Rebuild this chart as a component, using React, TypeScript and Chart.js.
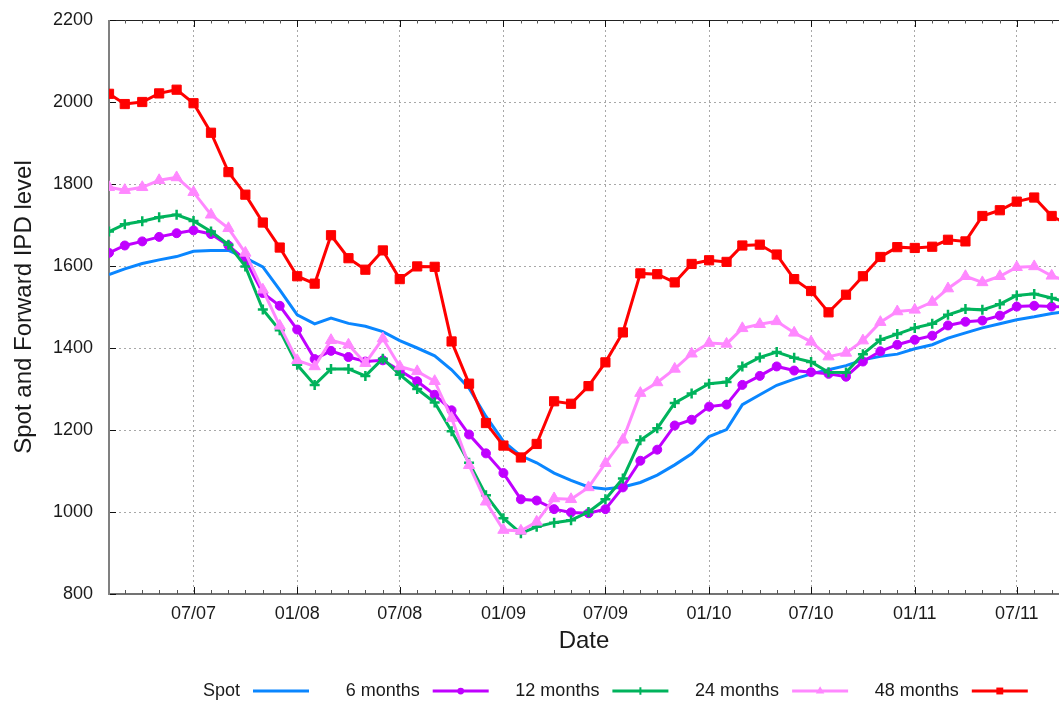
import React, { useEffect, useRef } from 'react';
import { Chart, registerables } from 'chart.js';

Chart.register(...registerables);

const FONT = "'Liberation Sans', Arial, Helvetica, sans-serif";

// Monthly observation dates (last one lies just beyond the visible range)
const months = [
  '2007-02', '2007-03', '2007-04', '2007-05', '2007-06', '2007-07', '2007-08', '2007-09', '2007-10', '2007-11', '2007-12',
  '2008-01', '2008-02', '2008-03', '2008-04', '2008-05', '2008-06', '2008-07', '2008-08', '2008-09', '2008-10', '2008-11', '2008-12',
  '2009-01', '2009-02', '2009-03', '2009-04', '2009-05', '2009-06', '2009-07', '2009-08', '2009-09', '2009-10', '2009-11', '2009-12',
  '2010-01', '2010-02', '2010-03', '2010-04', '2010-05', '2010-06', '2010-07', '2010-08', '2010-09', '2010-10', '2010-11', '2010-12',
  '2011-01', '2011-02', '2011-03', '2011-04', '2011-05', '2011-06', '2011-07', '2011-08', '2011-09', '2011-10',
];

const axisStart = '2007-02-01';
const axisEnd = '2011-09-14';

const majorTickMonths = ['2007-07', '2008-01', '2008-07', '2009-01', '2009-07', '2010-01', '2010-07', '2011-01', '2011-07'];

const seriesNames = ['Spot', '6 months', '12 months', '24 months', '48 months'];

const spot = [
  1579, 1593, 1606, 1615, 1623, 1636, 1638, 1638, 1620, 1598, 1542,
  1481, 1459, 1473, 1460, 1453, 1440, 1418, 1400, 1381, 1347, 1302, 1233,
  1172, 1137, 1120, 1095, 1077, 1061, 1056, 1061, 1072, 1090, 1115, 1142,
  1184, 1201, 1262, 1286, 1309, 1324, 1337, 1347, 1357, 1371, 1380, 1385,
  1398, 1408, 1424, 1437, 1449, 1459, 1469, 1476, 1484, 1490,
];

const sixMonths = [
  1632, 1650, 1660, 1671, 1680, 1687, 1678, 1650, 1615, 1534, 1503,
  1445, 1373, 1393, 1378, 1367, 1370, 1345, 1319, 1286, 1248, 1189, 1143,
  1095, 1031, 1028, 1007, 999, 997, 1007, 1060, 1125, 1152, 1211, 1225,
  1257, 1262, 1310, 1332, 1355, 1345, 1341, 1337, 1330, 1367, 1392, 1408,
  1420, 1430, 1455, 1464, 1467, 1479, 1501, 1503, 1501, 1500,
];

const twelveMonths = [
  1684, 1702, 1709, 1719, 1725, 1710, 1684, 1652, 1599, 1494, 1443,
  1359, 1310, 1349, 1349, 1332, 1374, 1335, 1300, 1267, 1197, 1120, 1041,
  985, 948, 964, 974, 980, 1000, 1031, 1082, 1175, 1204, 1266, 1289,
  1313, 1317, 1355, 1377, 1390, 1376, 1366, 1341, 1340, 1385, 1420, 1434,
  1449, 1459, 1481, 1495, 1493, 1507, 1528, 1532, 1522, 1510,
];

const twentyFourMonths = [
  1792, 1785, 1792, 1809, 1816, 1780, 1725, 1692, 1632, 1542, 1454,
  1370, 1355, 1419, 1408, 1363, 1423, 1355, 1343, 1319, 1229, 1114, 1025,
  956, 954, 976, 1033, 1031, 1060, 1119, 1176, 1290, 1316, 1349, 1386,
  1412, 1410, 1448, 1458, 1465, 1437, 1415, 1379, 1388, 1418, 1463, 1489,
  1493, 1512, 1545, 1575, 1560, 1575, 1597, 1599, 1576, 1562,
];

const fortyEightMonths = [
  2020, 1995, 2000, 2021, 2030, 1997, 1925, 1829, 1774, 1706, 1645,
  1575, 1557, 1675, 1619, 1591, 1638, 1568, 1599, 1598, 1416, 1313, 1217,
  1162, 1133, 1166, 1270, 1264, 1307, 1365, 1438, 1582, 1580, 1560, 1605,
  1614, 1610, 1650, 1652, 1628, 1568, 1539, 1487, 1530, 1575, 1622, 1646,
  1644, 1647, 1664, 1660, 1722, 1736, 1757, 1767, 1722, 1700,
];

const seriesValues = [spot, sixMonths, twelveMonths, twentyFourMonths, fortyEightMonths];
const seriesColors = ['#0a86ff', '#c000ff', '#00b35c', '#ff88ff', '#ff0000'];
const seriesMarkers = ['none', 'circle', 'cross', 'triangle', 'rect'];
const markerRadius = [0, 4.5, 5, 6.5, 6.5];

const Y_MIN = 800;
const Y_MAX = 2200;
const Y_STEP = 200;

const dayOf = (s: string) => {
  const p = s.split('-').map(Number);
  return Date.UTC(p[0], p[1] - 1, p[2] || 1) / 86400000;
};

function drawMarker(ctx: CanvasRenderingContext2D, style: string, x: number, y: number, r: number, color: string) {
  ctx.save();
  ctx.fillStyle = color;
  ctx.strokeStyle = color;
  ctx.beginPath();
  if (style === 'circle') {
    ctx.arc(x, y, r, 0, Math.PI * 2);
    ctx.fill();
  } else if (style === 'rect') {
    const h = r * Math.SQRT1_2;
    ctx.fillRect(x - h, y - h, 2 * h, 2 * h);
  } else if (style === 'triangle') {
    ctx.moveTo(x, y - r);
    ctx.lineTo(x + r * 0.866, y + r * 0.5);
    ctx.lineTo(x - r * 0.866, y + r * 0.5);
    ctx.closePath();
    ctx.fill();
  } else if (style === 'cross') {
    ctx.lineWidth = 2;
    ctx.moveTo(x - r, y);
    ctx.lineTo(x + r, y);
    ctx.moveTo(x, y - r);
    ctx.lineTo(x, y + r);
    ctx.stroke();
  }
  ctx.restore();
}

const zeroPadding = (scale: any) => {
  scale.paddingTop = 0;
  scale.paddingBottom = 0;
  scale.paddingLeft = 0;
  scale.paddingRight = 0;
};

export default function App() {
  const ref = useRef<HTMLCanvasElement>(null);

  useEffect(() => {
    const canvas = ref.current;
    if (!canvas) return;
    const origin = dayOf(axisStart);
    const toX = (s: string) => dayOf(s) - origin;
    const xMax = toX(axisEnd);
    const majorMap = new Map<number, string>();
    majorTickMonths.forEach((m) => {
      const [yy, mm] = m.split('-');
      majorMap.set(toX(m), `${mm}/${yy.slice(2)}`);
    });

    const datasets = seriesValues.map((vals, i) => ({
      label: seriesNames[i],
      data: vals.map((v, j) => ({ x: toX(months[j]), y: v })),
      borderColor: seriesColors[i],
      backgroundColor: seriesColors[i],
      borderWidth: 3,
      pointStyle: seriesMarkers[i] === 'none' ? false : seriesMarkers[i],
      pointRadius: markerRadius[i],
      pointHoverRadius: markerRadius[i],
      pointBackgroundColor: seriesColors[i],
      pointBorderColor: seriesColors[i],
      pointBorderWidth: seriesMarkers[i] === 'cross' ? 2.5 : 1,
      tension: 0,
      order: seriesValues.length - i,
    }));

    const framePlugin = {
      id: 'gpFrame',
      beforeDatasetsDraw(chart: any) {
        const { ctx, chartArea } = chart;
        const { left, right, top, bottom } = chartArea;
        const xs = chart.scales.x;
        const ys = chart.scales.y;
        ctx.save();
        // top border
        ctx.strokeStyle = '#222';
        ctx.lineWidth = 1;
        ctx.beginPath();
        ctx.moveTo(left, top + 0.5);
        ctx.lineTo(right, top + 0.5);
        ctx.stroke();
        // bottom axis
        ctx.strokeStyle = '#444';
        ctx.lineWidth = 1.5;
        ctx.beginPath();
        ctx.moveTo(left, bottom);
        ctx.lineTo(right, bottom);
        ctx.stroke();
        // x ticks
        ctx.lineWidth = 1;
        xs.ticks.forEach((t: any) => {
          const px = Math.round(xs.getPixelForValue(t.value)) + 0.5;
          const major = majorMap.has(t.value);
          const lenB = major ? 7 : 4;
          const lenT = major ? 7 : 3.5;
          ctx.strokeStyle = major ? '#111' : '#555';
          ctx.beginPath();
          ctx.moveTo(px, bottom);
          ctx.lineTo(px, bottom - lenB);
          ctx.moveTo(px, top);
          ctx.lineTo(px, top + lenT);
          ctx.stroke();
        });
        // y ticks
        ctx.strokeStyle = '#111';
        ys.ticks.forEach((t: any) => {
          const py = Math.round(ys.getPixelForValue(t.value)) + 0.5;
          ctx.beginPath();
          ctx.moveTo(left, py);
          ctx.lineTo(left + 7, py);
          ctx.stroke();
        });
        // left axis
        ctx.strokeStyle = '#808080';
        ctx.lineWidth = 2;
        ctx.beginPath();
        ctx.moveTo(left, top);
        ctx.lineTo(left, bottom + 1);
        ctx.stroke();
        ctx.restore();
      },
    };

    const legendPlugin = {
      id: 'gpLegend',
      afterDraw(chart: any) {
        const ctx = chart.ctx;
        const legendY = 691;
        const start = 253;
        const step = 179.7;
        const sampleLen = 56;
        ctx.save();
        ctx.font = `18px ${FONT}`;
        ctx.textBaseline = 'middle';
        ctx.textAlign = 'right';
        chart.data.datasets.forEach((ds: any, i: number) => {
          const x0 = start + i * step;
          ctx.fillStyle = '#1a1a1a';
          ctx.fillText(ds.label, x0 - 13, legendY);
          ctx.strokeStyle = seriesColors[i];
          ctx.lineWidth = 3;
          ctx.beginPath();
          ctx.moveTo(x0, legendY);
          ctx.lineTo(x0 + sampleLen, legendY);
          ctx.stroke();
          if (seriesMarkers[i] !== 'none') {
            drawMarker(ctx, seriesMarkers[i], x0 + sampleLen / 2, legendY, markerRadius[i] * 0.75, seriesColors[i]);
          }
        });
        ctx.restore();
      },
    };

    const chart = new Chart(canvas, {
      type: 'line',
      data: { datasets },
      options: {
        animation: false,
        responsive: false,
        devicePixelRatio: 1,
        events: [],
        layout: { autoPadding: false, padding: { top: 20, right: 0, bottom: 0, left: 0 } },
        plugins: {
          legend: { display: false },
          tooltip: { enabled: false },
        },
        scales: {
          x: {
            type: 'linear',
            min: 0,
            max: xMax,
            afterBuildTicks: (scale: any) => {
              scale.ticks = months
                .map((m) => ({ value: toX(m) }))
                .filter((t) => t.value >= 0 && t.value <= xMax);
            },
            afterFit: (scale: any) => {
              scale.height = 107;
              zeroPadding(scale);
            },
            ticks: {
              autoSkip: false,
              maxRotation: 0,
              minRotation: 0,
              padding: 9,
              color: '#1a1a1a',
              font: { family: FONT, size: 18 },
              callback: (v: any) => majorMap.get(Number(v)) || '',
            },
            grid: {
              drawTicks: false,
              lineWidth: 1,
              color: (c: any) => (c.tick && majorMap.has(c.tick.value) ? '#a8a8a8' : 'rgba(0,0,0,0)'),
            },
            border: { display: false, dash: [2, 3] },
            title: {
              display: true,
              text: 'Date',
              color: '#1a1a1a',
              font: { family: FONT, size: 24 },
              padding: { top: 0, bottom: 45 },
            },
          },
          y: {
            type: 'linear',
            min: Y_MIN,
            max: Y_MAX,
            afterFit: (scale: any) => {
              scale.width = 109;
              zeroPadding(scale);
            },
            ticks: {
              stepSize: Y_STEP,
              padding: 16,
              color: '#1a1a1a',
              font: { family: FONT, size: 18 },
              callback: (v: any) => String(v),
            },
            grid: {
              drawTicks: false,
              lineWidth: 1,
              color: (c: any) =>
                c.tick && (c.tick.value === Y_MIN || c.tick.value === Y_MAX) ? 'rgba(0,0,0,0)' : '#a8a8a8',
            },
            border: { display: false, dash: [2, 3] },
            title: {
              display: true,
              text: 'Spot and Forward IPD level',
              color: '#1a1a1a',
              font: { family: FONT, size: 24 },
              padding: { top: 10, bottom: 0 },
            },
          },
        },
      } as any,
      plugins: [framePlugin, legendPlugin],
    });

    return () => chart.destroy();
  }, []);

  return (
    <div style={{ position: 'fixed', left: 0, top: 0, width: 1059, height: 701, background: '#fff' }}>
      <canvas ref={ref} width={1059} height={701} style={{ display: 'block' }} />
    </div>
  );
}
